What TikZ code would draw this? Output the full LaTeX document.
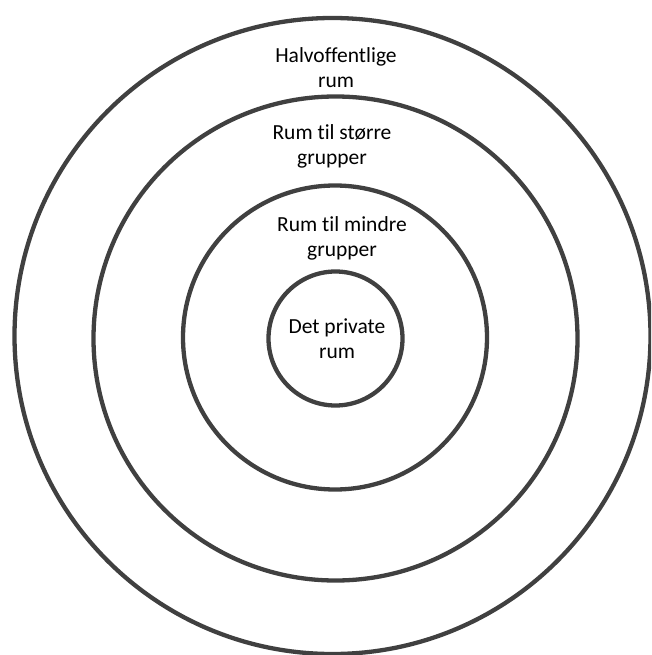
\documentclass[tikz,border=0pt]{standalone}
\usepackage{fontspec}
\setmainfont{Carlito}[Ligatures=NoCommon]
\definecolor{ring}{HTML}{404040}
\begin{document}
\begin{tikzpicture}[x=1pt,y=-1pt,
  ringline/.style={draw=ring,line width=4.3pt},
  lbl/.style={align=center,inner sep=0pt,text=black,font=\fontsize{21.5}{25}\selectfont}]
\useasboundingbox (0,0) rectangle (651,655);
\clip (0,0) rectangle (651,655);
\draw[ringline] (332.5,336) circle[radius=318];
\draw[ringline] (335.5,338.5) circle[radius=242];
\draw[ringline] (335,337.5) circle[radius=152];
\draw[ringline] (335.5,338.5) circle[radius=67];
\node[lbl] (outer) at (336,68) {Halvoffentlige\\rum};
\node[lbl] (second) at (332,146.5) {Rum til større\\grupper};
\node[lbl] (third) at (342,238.5) {Rum til mindre\\grupper};
\node[lbl] (inner) at (337,339) {Det private\\rum};
\end{tikzpicture}
\end{document}
